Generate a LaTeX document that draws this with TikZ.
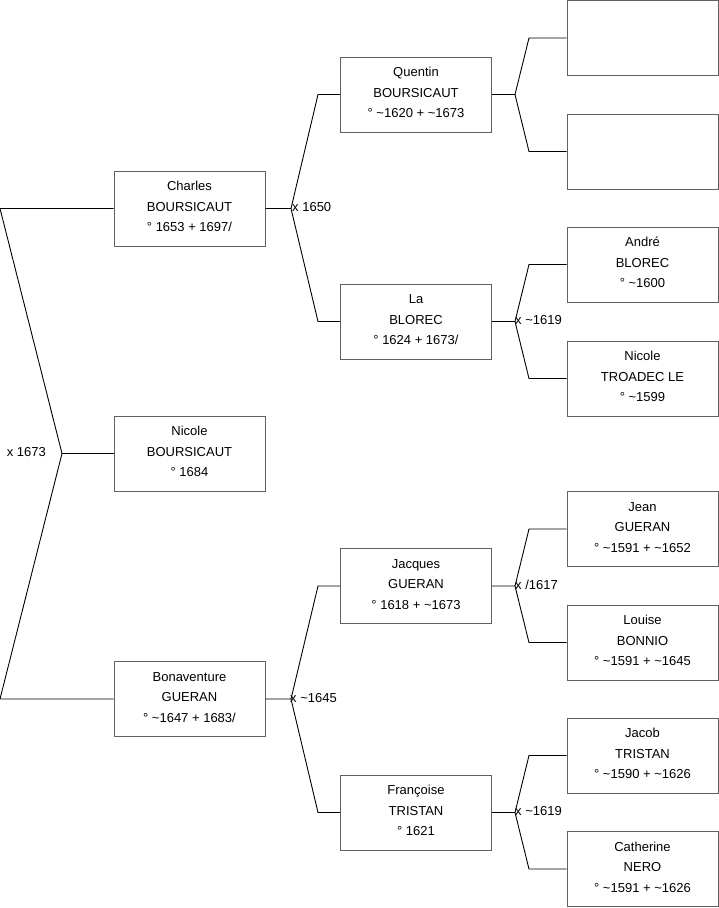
\documentclass[tikz,border=0pt]{standalone}
\usepackage{fontspec}
\setmainfont{Liberation Sans}
\definecolor{boxgray}{RGB}{96,96,96}
\newcommand{\personbox}[3]{%
  \node[person] (#1) at (#2) {};
  \node[ptext] (#1-t) at ([yshift=1.8pt]#1.center) {#3};}
\begin{document}
\begin{tikzpicture}[x=1pt,y=-1pt,
  person/.style={draw=boxgray, line width=1pt, minimum width=151pt, minimum height=75pt, inner sep=0pt},
  ptext/.style={align=center, font=\fontsize{13}{20.5}\selectfont, inner sep=0pt},
  link/.style={line width=0.9pt, black},
  lbl/.style={font=\fontsize{13}{15}\selectfont, inner sep=1pt}]
\useasboundingbox (0,0) rectangle (719,908);
% generation 1
\personbox{charles}{189.5,208.5}{Charles\\BOURSICAUT\\° 1653 + 1697/}
\personbox{nicole}{189.5,453.5}{Nicole\\BOURSICAUT\\° 1684}
\personbox{bona}{189.5,699}{Bonaventure\\GUERAN\\° \textasciitilde1647 + 1683/}
% generation 2
\personbox{quentin}{416,94.5}{Quentin\\BOURSICAUT\\° \textasciitilde1620 + \textasciitilde1673}
\personbox{la}{416,321.5}{La\\BLOREC\\° 1624 + 1673/}
\personbox{jacques}{416,586}{Jacques\\GUERAN\\° 1618 + \textasciitilde1673}
\personbox{francoise}{416,812.5}{Françoise\\TRISTAN\\° 1621}
% generation 3
\node[person] (e1) at (642.5,38) {};
\node[person] (e2) at (642.5,151.5) {};
\personbox{andre}{642.5,264.5}{André\\BLOREC\\° \textasciitilde1600}
\personbox{nicolet}{642.5,378.5}{Nicole\\TROADEC LE\\° \textasciitilde1599}
\personbox{jean}{642.5,529}{Jean\\GUERAN\\° \textasciitilde1591 + \textasciitilde1652}
\personbox{louise}{642.5,642.5}{Louise\\BONNIO\\° \textasciitilde1591 + \textasciitilde1645}
\personbox{jacob}{642.5,755.5}{Jacob\\TRISTAN\\° \textasciitilde1590 + \textasciitilde1626}
\personbox{cath}{642.5,869}{Catherine\\NERO\\° \textasciitilde1591 + \textasciitilde1626}
% root connectors
\coordinate (r1) at (0,208.5);
\coordinate (r2) at (0,699);
\coordinate (rj) at (62,453.5);
\draw[link] (charles.west) -- (r1) -- (rj) -- (r2) -- (bona.west);
\draw[link] (rj) -- (nicole.west);
\node[lbl, anchor=east] (l0) at (47,452.5) {x 1673};
% generation 1 -> 2
\coordinate (j1) at (291,208.5);
\draw[link] (charles.east) -- (j1) -- (318,94.5) -- (quentin.west);
\draw[link] (j1) -- (318,321.5) -- (la.west);
\node[lbl, anchor=west] (l1) at (291,207.5) {x 1650};
\coordinate (j2) at (291,699);
\draw[link] (bona.east) -- (j2) -- (318,586) -- (jacques.west);
\draw[link] (j2) -- (318,812.5) -- (francoise.west);
\node[lbl, anchor=west] (l2) at (289,698) {x \textasciitilde1645};
% generation 2 -> 3
\coordinate (j3) at (515,94.5);
\draw[link] (quentin.east) -- (j3) -- (529,38) -- (e1.west);
\draw[link] (j3) -- (529,151.5) -- (e2.west);
\coordinate (j4) at (515,321.5);
\draw[link] (la.east) -- (j4) -- (529,264.5) -- (andre.west);
\draw[link] (j4) -- (529,378.5) -- (nicolet.west);
\node[lbl, anchor=west] (l3) at (514,320.5) {x \textasciitilde1619};
\coordinate (j5) at (515,586);
\draw[link] (jacques.east) -- (j5) -- (529,529) -- (jean.west);
\draw[link] (j5) -- (529,642.5) -- (louise.west);
\node[lbl, anchor=west] (l4) at (514,585) {x /1617};
\coordinate (j6) at (515,812.5);
\draw[link] (francoise.east) -- (j6) -- (529,755.5) -- (jacob.west);
\draw[link] (j6) -- (529,869) -- (cath.west);
\node[lbl, anchor=west] (l5) at (514,811.5) {x \textasciitilde1619};
\end{tikzpicture}
\end{document}
